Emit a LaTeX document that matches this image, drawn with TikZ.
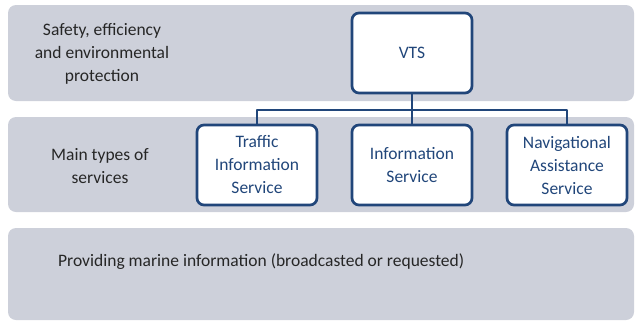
\documentclass[tikz,border=0pt]{standalone}
\usepackage{fontspec}
\setmainfont{Carlito}
\usetikzlibrary{positioning}

\definecolor{bandgray}{HTML}{CDD0DA}
\definecolor{vtsblue}{HTML}{21467A}
\definecolor{labelgray}{HTML}{262626}

\def\boxw{120pt}
\def\boxh{80pt}

\begin{document}
\begin{tikzpicture}[x=1pt,y=-1pt,line join=round]
    \tikzstyle{band}=[rectangle,rounded corners=8pt,fill=bandgray,minimum width=626pt,inner sep=0pt]
    \tikzstyle{level label}=[text=labelgray,align=center,font=\fontsize{17.5}{23}\selectfont]
    \tikzstyle{service}=[rectangle,rounded corners=7pt,draw=vtsblue,line width=2.7pt,fill=white,
        minimum width=\boxw,minimum height=\boxh,align=center,text=vtsblue,
        font=\fontsize{17.5}{23}\selectfont]
    \tikzstyle{link}=[draw=vtsblue,line width=2.7pt]

    \useasboundingbox (0,0) rectangle (635,322);

    % Draw the three background bands
    \node[band,minimum height=96pt] (B-1) at (321,53) {};
    \node[band,minimum height=95pt] (B-2) at (321,164.5) {};
    \node[band,minimum height=92pt] (B-3) at (321,274) {};

    % Label each band
    \node[level label] (goal) at (102,54) {Safety, efficiency\\and environmental\\protection};
    \node[level label] (types) at (100,166) {Main types of\\services};
    \node[level label,anchor=west,inner sep=0pt] (marine) at (58,262) {Providing marine information (broadcasted or requested)};

    % The VTS box and the services below it
    \node[service] (vts) at (412,53) {VTS};
    \foreach \name / \x / \txt in {tis/257/Traffic\\Information\\Service,
                                   is/412/Information\\Service,
                                   nas/567/Navigational\\Assistance\\Service}
        \node[service] (\name) at (\x,165) {\txt};

    % Connect the VTS box to every service
    \coordinate (hub) at (412,110);
    \path[link] (vts) -- (hub);
    \foreach \dest in {tis,is,nas}
        \path[link] (hub) -| (\dest);
\end{tikzpicture}
\end{document}
